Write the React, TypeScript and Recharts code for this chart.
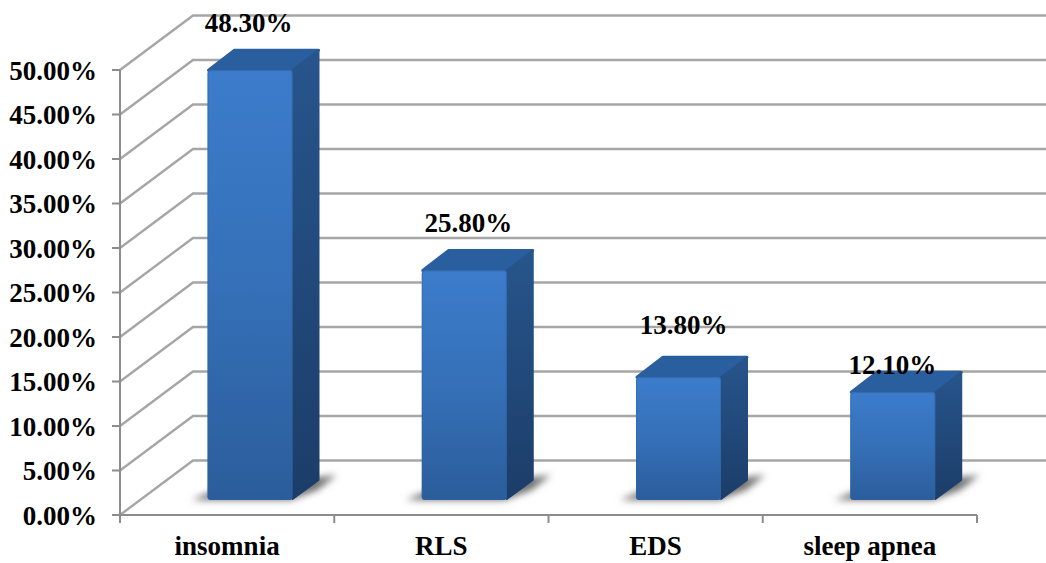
import React from "react";
import { BarChart, Bar, XAxis, YAxis, CartesianGrid, LabelList } from "recharts";

const categories = ["insomnia", "RLS", "EDS", "sleep apnea"];
const percentages = [48.3, 25.8, 13.8, 12.1];
const percentTicks = [0, 5, 10, 15, 20, 25, 30, 35, 40, 45, 50];

const rows = categories.map((name, i) => ({ name, value: percentages[i] }));

// Oblique projection used for the back wall and for the bar bodies.
const WALL_DX = 73;
const WALL_DY = -54.5;
const BAR_SHIFT_X = 22.5;
const BAR_SHIFT_Y = -15;
const BAR_DEPTH_X = 27;
const BAR_DEPTH_Y = -20;

const SERIF = '"Liberation Serif", "Times New Roman", serif';
const GRID = "#a6a6a6";
const AXIS = "#8c8c8c";
const FONT_SIZE = 27;
const AXIS_LEFT = 120;
const AXIS_RIGHT = 977;
const BAND = (AXIS_RIGHT - AXIS_LEFT) / categories.length;

// Hand-placed value labels: horizontal nudge and height above each bar.
const labelNudge = [-1.5, 4, 5, -0.5];
const labelLift = [47, 47, 52, 27];

const WallLine = (p: any) => (
  <polyline
    key={p.key}
    points={`${p.x1},${p.y1} ${p.x1 + WALL_DX},${p.y1 + WALL_DY} ${p.x2 + WALL_DX},${p.y1 + WALL_DY}`}
    fill="none"
    stroke={GRID}
    strokeWidth={2.4}
  />
);

// Category label with its tick marks on the band edges rather than the band centre.
const CategoryTick = (p: any) => {
  const left = p.x - BAND / 2;
  const top = p.y - 18;
  const isLast = p.index === categories.length - 1;
  return (
    <g>
      <line x1={left} x2={left} y1={top} y2={top + 8} stroke={AXIS} strokeWidth={2} />
      {isLast && <line x1={left + BAND} x2={left + BAND} y1={top} y2={top + 8} stroke={AXIS} strokeWidth={2} />}
      <text
        x={p.x}
        y={546}
        textAnchor="middle"
        dominantBaseline="central"
        fontFamily={SERIF}
        fontWeight="bold"
        fontSize={FONT_SIZE}
        fill="#000"
      >
        {p.payload.value}
      </text>
    </g>
  );
};

const Box3D = (p: any) => {
  const x = p.x + BAR_SHIFT_X;
  const y = p.y + BAR_SHIFT_Y;
  const w = p.width;
  const h = p.height;
  const b = y + h;
  const r = x + w;
  const dx = BAR_DEPTH_X;
  const dy = BAR_DEPTH_Y;
  return (
    <g>
      <polygon
        points={`${x - 16},${b} ${x + 8},${b - 10} ${r + dx + 17},${b + dy - 5} ${r + dx - 2},${b + dy + 10} ${r - 2},${b}`}
        fill="#707070"
        filter="url(#floorShadow)"
      />
      <polygon points={`${x + 1},${y} ${x + dx},${y + dy} ${r + dx - 1},${y + dy} ${r},${y}`} fill="#2a5f9f" stroke="#2a5f9f" strokeWidth={3} strokeLinejoin="round" />
      <polygon points={`${r},${y} ${r + dx - 1},${y + dy} ${r + dx - 1},${b + dy} ${r},${b - 1}`} fill="url(#boxSide)" stroke="url(#boxSide)" strokeWidth={2} strokeLinejoin="round" />
      <rect x={x} y={y} width={w} height={h} rx={3} fill="url(#boxFront)" />
      <rect x={x + 0.5} y={y + 0.5} width={w - 1} height={h - 1} rx={3} fill="none" stroke="#2f649f" strokeOpacity={0.5} />
    </g>
  );
};

const ValueLabel = (p: any) => {
  const i = p.index;
  const cx = p.x + p.width / 2 + BAR_SHIFT_X + labelNudge[i];
  return (
    <text
      x={cx}
      y={p.y + BAR_SHIFT_Y - labelLift[i]}
      textAnchor="middle"
      dominantBaseline="central"
      fontFamily={SERIF}
      fontWeight="bold"
      fontSize={FONT_SIZE}
      fill="#000"
    >
      {`${Number(p.value).toFixed(2)}%`}
    </text>
  );
};

export default function App() {
  return (
    <div style={{ position: "absolute", left: 0, top: 0, width: 1046, height: 563, background: "#fff" }}>
      <BarChart
        width={1046}
        height={563}
        data={rows}
        margin={{ top: 70, right: 69, bottom: 0, left: 0 }}
        barCategoryGap={0}
      >
        <defs>
          <linearGradient id="boxFront" x1="0" y1="0" x2="0" y2="1">
            <stop offset="0" stopColor="#3c7ccb" />
            <stop offset="0.5" stopColor="#3570b8" />
            <stop offset="1" stopColor="#2b5d9b" />
          </linearGradient>
          <linearGradient id="boxSide" x1="0" y1="0" x2="0" y2="1">
            <stop offset="0" stopColor="#27558c" />
            <stop offset="1" stopColor="#1c3d69" />
          </linearGradient>
          <filter id="floorShadow" x="-30%" y="-60%" width="160%" height="220%">
            <feGaussianBlur stdDeviation="3.5" />
          </filter>
        </defs>
        <CartesianGrid vertical={false} horizontal={WallLine} />
        <XAxis
          dataKey="name"
          height={48}
          interval={0}
          tickSize={8}
          tickMargin={10}
          axisLine={{ stroke: AXIS, strokeWidth: 2 }}
          tickLine={false}
          tick={CategoryTick}
        />
        <YAxis
          width={120}
          domain={[0, 50]}
          ticks={percentTicks}
          interval={0}
          tickSize={8}
          tickMargin={15}
          tickFormatter={(v: number) => `${v.toFixed(2)}%`}
          axisLine={{ stroke: AXIS, strokeWidth: 2 }}
          tickLine={{ stroke: AXIS, strokeWidth: 2 }}
          tick={{ fontFamily: SERIF, fontWeight: "bold", fontSize: FONT_SIZE, fill: "#000" }}
        />
        <Bar dataKey="value" barSize={85} isAnimationActive={false} shape={Box3D}>
          <LabelList dataKey="value" content={ValueLabel} />
        </Bar>
      </BarChart>
    </div>
  );
}
